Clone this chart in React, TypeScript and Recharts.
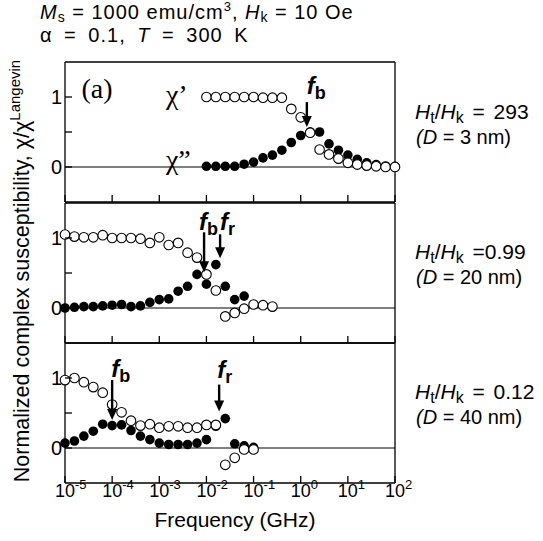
import { ScatterChart, Scatter, XAxis, YAxis, ReferenceLine, ReferenceDot } from "recharts";

const FONT = '"Liberation Sans", Arial, Helvetica, sans-serif';
const SERIF = '"Liberation Serif", "Times New Roman", serif';

// x values are log10 of the frequency in GHz
const topFreq = [-2.0, -1.8, -1.6, -1.4, -1.2, -1.0, -0.8, -0.6, -0.4, -0.2, 0.0, 0.2, 0.4, 0.6, 0.8, 1.0, 1.2, 1.4, 1.6, 1.8, 2.0];
const topReal = [1.0, 1.0, 1.0, 1.0, 1.0, 1.0, 0.99, 0.99, 0.99, 0.83, 0.71, 0.49, 0.25, 0.18, 0.12, 0.06, 0.035, 0.02, 0.01, 0.0, 0.0];
const topImag = [0.01, 0.01, 0.01, 0.01, 0.04, 0.07, 0.13, 0.17, 0.24, 0.35, 0.45, 0.5, 0.5, 0.33, 0.24, 0.17, 0.11, 0.06, 0.035, 0.015, 0.01];

const midFreq = [-5.0, -4.8, -4.6, -4.4, -4.2, -4.0, -3.8, -3.6, -3.4, -3.2, -3.0, -2.8, -2.6, -2.4, -2.2, -2.0, -1.8, -1.6, -1.4, -1.2, -1.0, -0.8, -0.6];
const midReal = [1.05, 1.02, 1.01, 1.01, 1.04, 1.0, 1.0, 1.0, 0.99, 0.93, 1.01, 0.9, 0.93, 0.79, 0.72, 0.48, 0.25, -0.12, -0.07, -0.01, 0.05, 0.04, 0.02];
const midImag = [0.0, 0.01, 0.02, 0.02, 0.03, 0.04, 0.05, 0.02, 0.03, 0.08, 0.12, 0.13, 0.24, 0.31, 0.48, 0.34, 0.62, 0.31, 0.12, 0.17];

const botFreq = [-5.0, -4.8, -4.6, -4.4, -4.2, -4.0, -3.8, -3.6, -3.4, -3.2, -3.0, -2.8, -2.6, -2.4, -2.2, -2.0, -1.8, -1.6, -1.4, -1.2, -1.0];
const botReal = [0.97, 1.0, 0.94, 0.87, 0.79, 0.62, 0.51, 0.39, 0.32, 0.34, 0.29, 0.31, 0.31, 0.29, 0.29, 0.33, 0.33, -0.24, -0.14, -0.02, -0.02];
const botImag = [0.07, 0.1, 0.17, 0.24, 0.34, 0.32, 0.33, 0.25, 0.17, 0.12, 0.07, 0.05, 0.05, 0.05, 0.07, 0.12, 0.31, 0.42, 0.06, 0.03, 0.01];

const decades = [-5, -4, -3, -2, -1, 0, 1, 2];
const yTicks = [0, 0.5, 1];

type Pt = { f: number; v: number };
type Arrow = { f: number; v: number; len: number; gap: number; dx: number; sub: string };
type Note = { f: number; v: number; text: string; size: number };

const zip = (fs: number[], vs: number[]): Pt[] => vs.map((v, i) => ({ f: fs[i], v }));

const topArrows: Arrow[] = [{ f: 0.13, v: 0.57, len: 25, gap: 8, dx: 0, sub: "b" }];
const midArrows: Arrow[] = [
  { f: -2.05, v: 0.51, len: 40, gap: 2, dx: -5, sub: "b" },
  { f: -1.71, v: 0.71, len: 24, gap: 4, dx: 0, sub: "r" },
];
const botArrows: Arrow[] = [
  { f: -4.0, v: 0.4, len: 40, gap: 3, dx: -1, sub: "b" },
  { f: -1.73, v: 0.52, len: 27, gap: 7, dx: -2, sub: "r" },
];
const topNotes: Note[] = [
  { f: -4.65, v: 0.98, text: "(a)", size: 28 },
  { f: -2.86, v: 0.9, text: "χ’", size: 28 },
  { f: -2.86, v: -0.03, text: "χ”", size: 28 },
];

const STROKE = "#000";

const openDot = (p: any) => <circle cx={p.cx} cy={p.cy} r={4.8} fill="#fff" stroke={STROKE} strokeWidth={1.1} />;
const fullDot = (p: any) => <circle cx={p.cx} cy={p.cy} r={4.8} fill={STROKE} />;

const arrowShape = (a: Arrow) => (p: any) => {
  const { cx, cy } = p;
  const top = cy - a.len;
  return (
    <g>
      <line x1={cx} x2={cx} y1={top} y2={cy - 9} stroke={STROKE} strokeWidth={2.4} />
      <polygon points={`${cx - 5},${cy - 11} ${cx + 5},${cy - 11} ${cx},${cy}`} fill={STROKE} />
      <text x={cx + a.dx} y={top - a.gap} fontFamily={FONT} fontWeight="bold" fontSize={24}>
        <tspan fontStyle="italic">f</tspan>
        <tspan fontSize={18} dy={5}>{a.sub}</tspan>
      </text>
    </g>
  );
};

const noteShape = (n: Note) => (p: any) => (
  <text x={p.cx} y={p.cy} fontFamily={SERIF} fontSize={n.size} fill={STROKE}>
    {n.text}
  </text>
);

const BottomTick = (p: any) => {
  const { x, y, payload, labels } = p;
  return (
    <g>
      <line x1={x} x2={x} y1={y} y2={y - 7} stroke={STROKE} strokeWidth={1.3} />
      {labels && (
        <g fontFamily={FONT} fill={STROKE}>
          <text x={x} y={y + 14} textAnchor="middle" fontSize={18}>10</text>
          <text x={x + 10} y={y + 6} fontSize={13}>{payload.value}</text>
        </g>
      )}
    </g>
  );
};

const TopTick = (p: any) => (
  <line x1={p.x} x2={p.x} y1={p.y} y2={p.y + 7} stroke={STROKE} strokeWidth={1.3} />
);

const LeftTick = (p: any) => {
  const { x, y, payload } = p;
  const v = payload.value;
  return (
    <g>
      <line x1={x} x2={x + 7} y1={y} y2={y} stroke={STROKE} strokeWidth={1.3} />
      {(v === 0 || v === 1) && (
        <text x={x - 3} y={y + 7} textAnchor="end" fontFamily={FONT} fontSize={20} fill={STROKE}>
          {v}
        </text>
      )}
    </g>
  );
};

const RightTick = (p: any) => (
  <line x1={p.x} x2={p.x - 7} y1={p.y} y2={p.y} stroke={STROKE} strokeWidth={1.3} />
);

const axisLine = { stroke: STROKE, strokeWidth: 1.3 };

type PanelProps = {
  top: number;
  real: Pt[];
  imag: Pt[];
  arrows: Arrow[];
  notes?: Note[];
  xLabels?: boolean;
};

const Panel = ({ top, real, imag, arrows, notes = [], xLabels = false }: PanelProps) => {
  const mt = 10;
  const mb = xLabels ? 30 : 10;
  return (
    <div style={{ position: "absolute", left: 0, top: top - mt }}>
      <ScatterChart width={543} height={140 + mt + mb} margin={{ top: mt - 1, right: 147, bottom: mb - 1, left: 64 }}>
        <XAxis
          type="number"
          dataKey="f"
          domain={[-5, 2]}
          ticks={decades}
          interval={0}
          height={1}
          tickSize={0}
          tickMargin={0}
          tickLine={false}
          axisLine={axisLine}
          tick={(p: any) => <BottomTick {...p} labels={xLabels} />}
        />
        <XAxis
          xAxisId="t"
          orientation="top"
          type="number"
          dataKey="f"
          domain={[-5, 2]}
          ticks={decades}
          interval={0}
          height={1}
          tickSize={0}
          tickMargin={0}
          tickLine={false}
          axisLine={axisLine}
          tick={TopTick}
        />
        <YAxis
          type="number"
          dataKey="v"
          domain={[-0.5, 1.5]}
          ticks={yTicks}
          interval={0}
          width={1}
          tickSize={0}
          tickMargin={0}
          tickLine={false}
          axisLine={axisLine}
          tick={LeftTick}
        />
        <YAxis
          yAxisId="r"
          orientation="right"
          type="number"
          dataKey="v"
          domain={[-0.5, 1.5]}
          ticks={yTicks}
          interval={0}
          width={1}
          tickSize={0}
          tickMargin={0}
          tickLine={false}
          axisLine={axisLine}
          tick={RightTick}
        />
        <ReferenceLine y={0} stroke={STROKE} strokeWidth={1} />
        <Scatter data={imag} shape={fullDot} isAnimationActive={false} />
        <Scatter data={real} shape={openDot} isAnimationActive={false} />
        {arrows.map((a, i) => (
          <ReferenceDot key={"a" + i} x={a.f} y={a.v} r={0} ifOverflow="visible" shape={arrowShape(a)} />
        ))}
        {notes.map((n, i) => (
          <ReferenceDot key={"n" + i} x={n.f} y={n.v} r={0} ifOverflow="visible" shape={noteShape(n)} />
        ))}
      </ScatterChart>
    </div>
  );
};

const SideLabel = ({ y, ratio, d }: { y: number; ratio: string; d: string }) => (
  <g fontFamily={FONT} fontSize={20} fill={STROKE}>
    <text x={415} y={y} fontSize={21} wordSpacing={3}>
      <tspan fontStyle="italic">H</tspan>
      <tspan fontSize={16} dy={4}>t</tspan>
      <tspan dy={-4}>/</tspan>
      <tspan fontStyle="italic">H</tspan>
      <tspan fontSize={16} dy={4}>k</tspan>
      <tspan dy={-4}>{ratio}</tspan>
    </text>
    <text x={416} y={y + 25}>
      <tspan fontStyle="italic">(D</tspan>
      <tspan>{d}</tspan>
    </text>
  </g>
);

export default function App() {
  return (
    <div style={{ position: "absolute", left: 0, top: 0, width: 543, height: 541, background: "#fff", overflow: "hidden" }}>
      <svg width={543} height={541} style={{ position: "absolute", left: 0, top: 0 }}>
        <g fontFamily={FONT} fontSize={20} fill={STROKE}>
          <text x={40} y={19} letterSpacing={1}>
            <tspan fontStyle="italic">M</tspan>
            <tspan fontSize={14} dy={3}>s</tspan>
            <tspan dy={-3}>{" = 1000 emu/cm"}</tspan>
            <tspan fontSize={13} dy={-8}>3</tspan>
            <tspan dy={8}>{", "}</tspan>
            <tspan fontStyle="italic">H</tspan>
            <tspan fontSize={14} dy={3}>k</tspan>
            <tspan dy={-3}>{" = 10 Oe"}</tspan>
          </text>
          <text x={40} y={42} letterSpacing={1} wordSpacing={5}>
            <tspan>{"α = 0.1,  "}</tspan>
            <tspan fontStyle="italic">T</tspan>
            <tspan>{" = 300 K"}</tspan>
          </text>
          <text x={235} y={527} textAnchor="middle" fontSize={21}>Frequency (GHz)</text>
          <text transform="translate(29 271) rotate(-90)" textAnchor="middle" fontSize={21.5}>
            <tspan>{"Normalized complex susceptibility, χ/χ"}</tspan>
            <tspan fontSize={15} dy={-9}>Langevin</tspan>
          </text>
        </g>
        <SideLabel y={119} ratio=" = 293" d=" = 3 nm)" />
        <SideLabel y={259} ratio=" =0.99" d=" = 20 nm)" />
        <SideLabel y={399} ratio=" = 0.12" d=" = 40 nm)" />
      </svg>
      <Panel top={62} real={zip(topFreq, topReal)} imag={zip(topFreq, topImag)} arrows={topArrows} notes={topNotes} />
      <Panel top={203} real={zip(midFreq, midReal)} imag={zip(midFreq, midImag)} arrows={midArrows} />
      <Panel top={343} real={zip(botFreq, botReal)} imag={zip(botFreq, botImag)} arrows={botArrows} xLabels />
    </div>
  );
}
